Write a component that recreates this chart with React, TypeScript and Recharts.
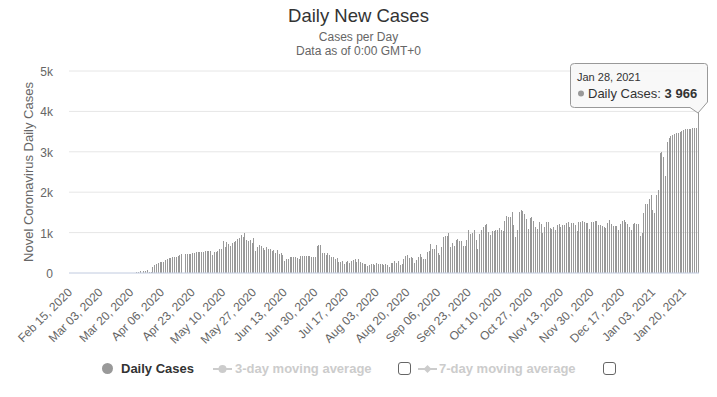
import React from 'react';
import { BarChart, Bar, XAxis, YAxis, CartesianGrid, Tooltip, Legend } from 'recharts';

const FONT = '"Liberation Sans", Arial, Helvetica, sans-serif';

const MONTHS = ['Jan', 'Feb', 'Mar', 'Apr', 'May', 'Jun', 'Jul', 'Aug', 'Sep', 'Oct', 'Nov', 'Dec'];
const FIRST_DAY = { year: 2020, month: 1, day: 15 }; // Feb 15, 2020

const febMarCases = [
  0, 0, 0, 0, 0, 0, 0, 0, 0, 0, 0, 0, 0, 0, 0, 0, 0, 0, 0, 0,
  0, 0, 0, 0, 0, 0, 0, 0, 0, 0, 0, 0, 0, 0, 0, 0, 0,
  25, 25, 50, 0, 45, 45, 65, 25, 25,
];
const aprMayCases = [
  150, 210, 230, 240, 275, 260, 265, 310, 350, 365,
  370, 400, 405, 405, 410, 440, 460, 0, 465, 475,
  475, 480, 500, 500, 510, 525, 515, 525, 525, 540,
  550, 550, 550, 450, 515, 515, 540, 585, 600, 785,
  650, 775, 710, 670, 735, 775, 800, 835, 860, 935,
  885, 985, 815, 785, 810, 750, 860,
];
const junAugCases = [
  535, 635, 700, 660, 620, 570, 650, 600, 600, 535,
  580, 505, 570, 470, 505, 455, 290, 340, 355, 390,
  390, 390, 390, 370, 355, 430, 415, 415, 430, 430,
  415, 390, 390, 390, 660, 700, 685, 505, 505, 455,
  505, 455, 390, 390, 340, 370, 275, 275, 290, 225,
  275, 290, 250, 290, 320, 355, 275, 355, 275, 240,
  225, 225, 165, 205, 225, 225, 190, 240, 225,
];
const augOctCases = [
  220, 220, 210, 220, 190, 140, 245, 245, 290, 245,
  305, 190, 220, 355, 410, 450, 370, 400, 370, 245,
  330, 385, 475, 385, 355, 355, 520, 550, 725, 600,
  600, 685, 500, 450, 635, 880, 920, 920, 995, 635,
  750, 660, 825, 850, 800, 800, 660, 660, 825, 1070,
  970, 990, 1070, 825, 600, 965, 1070, 1150, 1195, 1220,
  1010, 930, 1045, 1030, 1070, 1070, 1110, 1070, 1045,
];
const octDecCases = [
  1290, 1405, 1375, 1390, 1505, 1195, 900, 1070, 1515, 1565,
  1540, 1465, 1340, 1095, 1360, 1390, 1290, 1145, 1085, 1265,
  1210, 990, 1135, 1265, 1265, 1120, 1095, 1130, 1060, 1185,
  1210, 1130, 1195, 1195, 1235, 1260, 1145, 1235, 1235, 1195,
  1045, 1260, 1265, 1290, 1265, 1245, 1245, 1095, 1265, 1265,
  1290, 1290, 1195,
];
const decJanCases = [
  1200, 1175, 1140, 1115, 1240, 1300, 1225, 1175, 1160, 1160,
  1075, 1225, 1280, 1300, 1270, 1225, 1140, 1075, 1225, 1240,
  1225, 1225, 925, 990, 1490, 1720, 1720, 1835, 1940, 1570,
  1490, 1940, 2065, 2975, 2990, 2875, 2400, 3240, 3345, 3390,
  3405, 3430, 3455, 3470, 3490, 3510, 3535, 3555, 3560, 3570,
  3570, 3580, 3585, 3590, 3966,
];

const dailyCases: number[] = [
  ...febMarCases, ...aprMayCases, ...junAugCases, ...augOctCases, ...octDecCases, ...decJanCases,
];

const dateLabels: string[] = dailyCases.map((_, i) => {
  const d = new Date(Date.UTC(FIRST_DAY.year, FIRST_DAY.month, FIRST_DAY.day + i));
  return `${MONTHS[d.getUTCMonth()]} ${String(d.getUTCDate()).padStart(2, '0')}, ${d.getUTCFullYear()}`;
});

const yTicks = [0, 1000, 2000, 3000, 4000, 5000];
const yTickLabels = ['0', '1k', '2k', '3k', '4k', '5k'];

const titleText = 'Daily New Cases';
const subtitleLines = ['Cases per Day', 'Data as of 0:00 GMT+0'];
const yAxisTitle = 'Novel Coronavirus Daily Cases';
const seriesName = 'Daily Cases';
const legendExtras = ['3-day moving average', '7-day moving average'];

const data = dateLabels.map((date, i) => ({ date, cases: dailyCases[i] }));

const XTick = (props: any) => {
  const { x, payload } = props;
  const ax = x + 3;
  const ay = 293;
  return (
    <text x={ax} y={ay} transform={`rotate(-45 ${ax} ${ay})`} textAnchor="end" fill="#666666" fontSize={12} fontFamily={FONT}>
      {payload.value}
    </text>
  );
};

const YTick = (props: any) => {
  const { y, payload } = props;
  const idx = yTicks.indexOf(payload.value);
  return (
    <text x={53} y={y + 5} textAnchor="end" fill="#666666" fontSize={12} fontFamily={FONT}>
      {idx >= 0 ? yTickLabels[idx] : payload.value}
    </text>
  );
};

const YTitle = (props: any) => {
  const vb = props.viewBox || { x: 0, y: 71, width: 69, height: 202 };
  const cx = 28;
  const cy = vb.y + vb.height / 2;
  return (
    <text x={cx} y={cy} transform={`rotate(-90 ${cx} ${cy})`} textAnchor="middle" dominantBaseline="central" fill="#666666" fontSize={13} fontFamily={FONT}>
      {yAxisTitle}
    </text>
  );
};

const BarShape = (props: any) => {
  const { x, y, width, height, fill } = props;
  if (!height || height <= 0) return null;
  const left = Math.round(x + width / 2 - 0.5);
  return <rect x={left} y={y} width={1} height={height} fill={fill} shapeRendering="crispEdges" />;
};

const TipContent = (props: any) => {
  const { active, payload } = props;
  if (!active || !payload || !payload.length) return null;
  const p = payload[0];
  const val = String(p.value).replace(/\B(?=(\d{3})+(?!\d))/g, ' ');
  return (
    <svg width={142} height={54} style={{ display: 'block', overflow: 'visible', fontFamily: FONT }}>
      <path
        d="M 5.5 1.5 L 135.5 1.5 Q 138.5 1.5 138.5 4.5 L 138.5 40 L 129 51 L 121 45.5 L 5.5 45.5 Q 1.5 45.5 1.5 42.5 L 1.5 4.5 Q 1.5 1.5 5.5 1.5 Z"
        fill="rgba(247,247,247,0.9)"
        stroke="#999999"
        strokeWidth={1}
      />
      <text x={8} y={19} fontSize={11} fill="#333333">{p.payload.date}</text>
      <circle cx={12} cy={31.5} r={3} fill="#999999" />
      <text x={19} y={36} fontSize={13} fill="#333333">
        {p.name}: <tspan fontWeight="bold">{val}</tspan>
      </text>
    </svg>
  );
};

const Checkbox = ({ left }: { left: number }) => (
  <span
    style={{
      position: 'absolute', left, top: 6, width: 11, height: 11,
      border: '1px solid #666', borderRadius: 3, background: '#fff',
    }}
  />
);

const LegendContent = (props: any) => {
  const name = props.payload && props.payload[0] ? props.payload[0].value : seriesName;
  return (
    <div style={{ position: 'relative', width: 717, height: 26, fontFamily: FONT, fontSize: 13, fontWeight: 'bold' }}>
      <span style={{ position: 'absolute', left: 102, top: 7, width: 11, height: 11, borderRadius: '50%', background: '#999999' }} />
      <span style={{ position: 'absolute', left: 121, top: 5, color: '#333333', whiteSpace: 'nowrap' }}>{name}</span>
      <svg style={{ position: 'absolute', left: 212, top: 7 }} width={22} height={12}>
        <line x1={1} y1={6} x2={20} y2={6} stroke="#cccccc" strokeWidth={2} />
        <circle cx={10.5} cy={6} r={4} fill="#cccccc" />
      </svg>
      <span style={{ position: 'absolute', left: 235, top: 5, color: '#cccccc', whiteSpace: 'nowrap' }}>{legendExtras[0]}</span>
      <Checkbox left={398} />
      <svg style={{ position: 'absolute', left: 417, top: 7 }} width={22} height={12}>
        <line x1={1} y1={6} x2={20} y2={6} stroke="#cccccc" strokeWidth={2} />
        <path d="M 10.5 2 L 14.5 6 L 10.5 10 L 6.5 6 Z" fill="#cccccc" />
      </svg>
      <span style={{ position: 'absolute', left: 439, top: 5, color: '#cccccc', whiteSpace: 'nowrap' }}>{legendExtras[1]}</span>
      <Checkbox left={603} />
    </div>
  );
};

export default function App() {
  return (
    <div style={{ position: 'absolute', left: 0, top: 0, width: 717, height: 397, background: '#ffffff', fontFamily: FONT }}>
      <BarChart width={717} height={397} data={data} margin={{ top: 71, right: 18, bottom: 0, left: 0 }} barCategoryGap="20%">
        <CartesianGrid vertical={false} stroke="#e6e6e6" />
        <XAxis
          dataKey="date"
          interval={16}
          height={124}
          tickLine={false}
          axisLine={{ stroke: '#ccd6eb' }}
          tick={<XTick />}
        />
        <YAxis
          width={69}
          domain={[0, 5000]}
          ticks={yTicks}
          axisLine={false}
          tickLine={false}
          tick={<YTick />}
          label={<YTitle />}
        />
        <Tooltip
          defaultIndex={348}
          active={true}
          cursor={false}
          isAnimationActive={false}
          position={{ x: 569, y: 62 }}
          allowEscapeViewBox={{ x: true, y: true }}
          wrapperStyle={{ outline: 'none' }}
          content={<TipContent />}
        />
        <Legend
          layout="horizontal"
          verticalAlign="middle"
          align="center"
          wrapperStyle={{ position: 'absolute', top: 356, left: 0, width: 717, height: 26 }}
          content={<LegendContent />}
        />
        <Bar dataKey="cases" name={seriesName} fill="#999999" isAnimationActive={false} shape={<BarShape />} />
      </BarChart>
      <svg width={717} height={60} style={{ position: 'absolute', left: 0, top: 0, pointerEvents: 'none' }}>
        <text x={358.5} y={22} textAnchor="middle" fontSize={18.5} fill="#333333" fontFamily={FONT}>{titleText}</text>
        <text x={358.5} y={41} textAnchor="middle" fontSize={12} fill="#666666" fontFamily={FONT}>{subtitleLines[0]}</text>
        <text x={358.5} y={55} textAnchor="middle" fontSize={12} fill="#666666" fontFamily={FONT}>{subtitleLines[1]}</text>
      </svg>
    </div>
  );
}
